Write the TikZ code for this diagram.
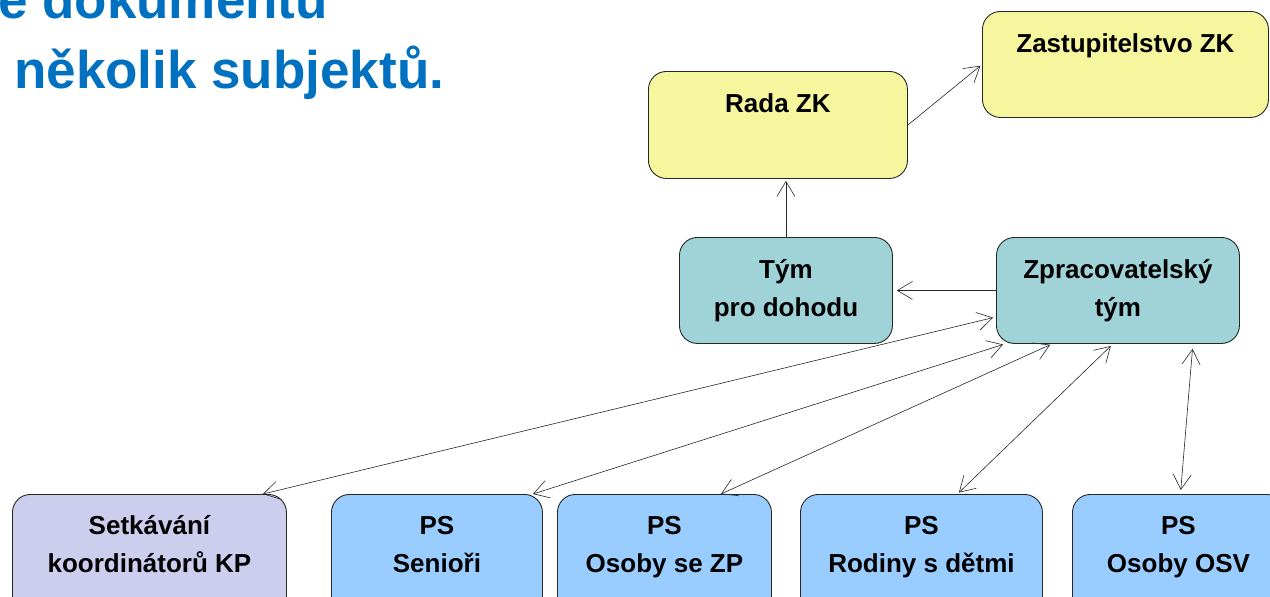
\documentclass[tikz,border=0pt]{standalone}
\usepackage{fontspec}
\setmainfont{Liberation Sans}
\usetikzlibrary{arrows.meta}
\definecolor{boxyellow}{HTML}{F5F69E}
\definecolor{boxteal}{HTML}{A0D3D7}
\definecolor{boxlav}{HTML}{CDCDEE}
\definecolor{boxblue}{HTML}{99CCFF}
\definecolor{titleblue}{HTML}{0070C0}
\tikzset{
  >={Straight Barb[length=15pt,width=18pt]},
  box/.style={draw=black!85, line width=0.9pt, rounded corners=18pt, inner sep=0pt, anchor=north west},
  boxtxt/.style={anchor=north, inner sep=0pt, align=center, font=\fontsize{26}{38}\selectfont\bfseries},
  titletxt/.style={anchor=base west, inner sep=0pt, text=titleblue, font=\fontsize{53}{64}\selectfont\bfseries},
  conn/.style={line width=0.6pt, draw=black!85}
}
\begin{document}
\begin{tikzpicture}[x=1pt,y=-1pt]
\useasboundingbox (0,0) rectangle (1270,597);
\clip (0,0) rectangle (1270,597);
% title
\node[titletxt] (t1) at (-2,19) {e dokumentu};
\node[titletxt] (t2) at (14,88) {několik subjektů.};
% boxes
\node[box, fill=boxyellow, minimum width=259pt, minimum height=107pt] (rada) at (648,71) {};
\node[box, fill=boxyellow, minimum width=286pt, minimum height=106pt] (zast) at (982,11) {};
\node[box, fill=boxteal, minimum width=213pt, minimum height=106pt] (tym) at (679,237) {};
\node[box, fill=boxteal, minimum width=243pt, minimum height=106pt] (zprac) at (996,237) {};
\node[box, fill=boxlav, minimum width=274pt, minimum height=125pt] (setk) at (12,494) {};
\node[box, fill=boxblue, minimum width=211pt, minimum height=125pt] (sen) at (331,494) {};
\node[box, fill=boxblue, minimum width=214pt, minimum height=125pt] (zp) at (557,494) {};
\node[box, fill=boxblue, minimum width=242pt, minimum height=125pt] (rod) at (800,494) {};
\node[box, fill=boxblue, minimum width=212pt, minimum height=125pt] (osv) at (1072,494) {};
% texts
\node[boxtxt] (radat) at ([yshift=-14.4pt]rada.north) {\strut Rada ZK};
\node[boxtxt] (zastt) at ([yshift=-14.4pt]zast.north) {\strut Zastupitelstvo ZK};
\node[boxtxt] (tymt) at ([yshift=-14.4pt]tym.north) {\strut Tým\\\strut pro dohodu};
\node[boxtxt] (zpract) at ([yshift=-14.4pt]zprac.north) {\strut Zpracovatelský\\\strut tým};
\node[boxtxt] (setkt) at ([yshift=-13.4pt]setk.north) {\strut Setkávání\\\strut koordinátorů KP};
\node[boxtxt] (sent) at ([yshift=-13.4pt]sen.north) {\strut PS\\\strut Senioři};
\node[boxtxt] (zpt) at ([yshift=-13.4pt]zp.north) {\strut PS\\\strut Osoby se ZP};
\node[boxtxt] (rodt) at ([yshift=-13.4pt]rod.north) {\strut PS\\\strut Rodiny s dětmi};
\node[boxtxt] (osvt) at ([yshift=-13.4pt]osv.north) {\strut PS\\\strut Osoby OSV};
% connectors
\draw[conn,->,shorten >=2pt] (tym.north) -- (tym.north |- rada.south);
\draw[conn,->,shorten >=2pt] (rada.east) -- (zast.west);
\draw[conn,->,shorten >=4pt] (zprac.west) -- (tym.east);
\draw[conn,<->,shorten >=3pt] ([xshift=-24pt]setk.north east) -- ([yshift=27pt]zprac.south west);
\draw[conn,<->,shorten >=2pt] ([xshift=-10pt]sen.north east) -- ([xshift=9pt]zprac.south west);
\draw[conn,<->,shorten >=2pt] ([xshift=-51pt]zp.north east) -- ([xshift=56pt]zprac.south west);
\draw[conn,<->,shorten >=3pt,shorten <=2pt] ([xshift=36pt]rod.north) -- ([xshift=-5pt]zprac.south);
\draw[conn,<->,shorten >=5pt,shorten <=4pt] ([xshift=2pt]osv.north) -- ([xshift=-47pt]zprac.south east);
\end{tikzpicture}
\end{document}
